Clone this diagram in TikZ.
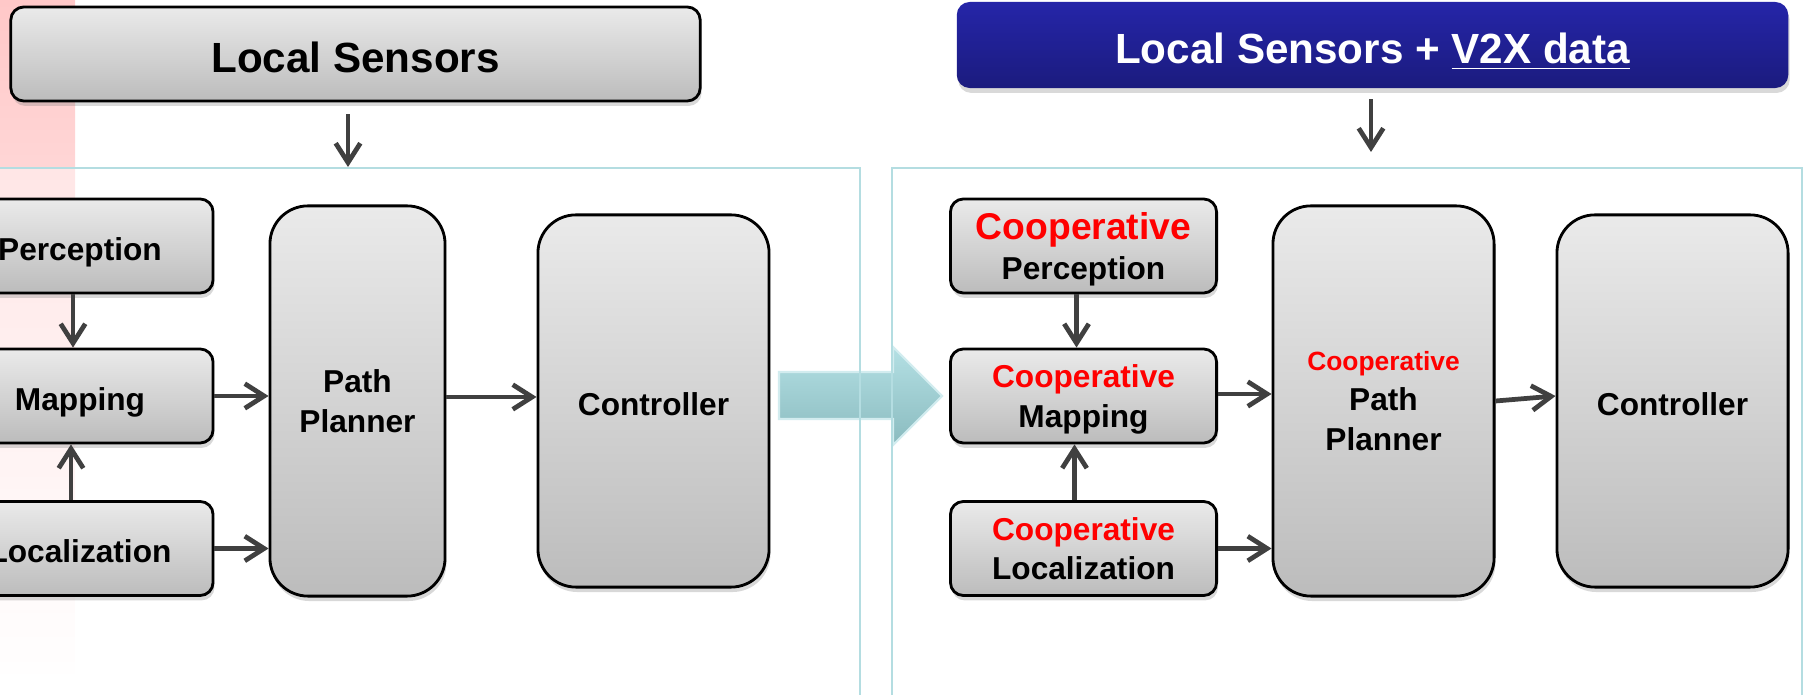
\documentclass[tikz,border=0pt]{standalone}
\usepackage{fontspec}
\setmainfont{Liberation Sans}
\usetikzlibrary{arrows.meta,shadows,positioning}
\usepackage{xcolor}

\definecolor{boxtop}{HTML}{EAEAEA}
\definecolor{boxbot}{HTML}{BCBCBC}
\definecolor{arrowgray}{HTML}{404040}
\definecolor{paneline}{HTML}{B4DDE1}
\definecolor{bluetop}{HTML}{2525A8}
\definecolor{bluebot}{HTML}{1B1B7E}
\definecolor{pinkstrip}{HTML}{FFC8C8}
\definecolor{bigtop}{HTML}{B4E0E4}
\definecolor{bigbot}{HTML}{8ABBBF}

% line box as PowerPoint sets it
\newcommand{\pptstrut}{\rule[-0.212em]{0pt}{1.117em}}
\newcommand{\pptlead}{\rule{0pt}{\dimexpr0.905em+2pt\relax}}

\begin{document}
\begin{tikzpicture}[x=0.01cm, y=-0.01cm,
    box/.style={draw=black, line width=0.8pt, rounded corners=0.13cm,
        top color=boxtop, bottom color=boxbot,
        drop shadow={shadow xshift=0.4pt, shadow yshift=-1.4pt, opacity=0.3},
        align=center, inner sep=0pt, font=\bfseries\fontsize{9}{11.3}\selectfont,
        execute at begin node=\pptlead, execute at end node=\pptstrut},
    lines/.style={text depth=-0.7pt},
    small/.style={box, minimum width=2.66cm, minimum height=0.94cm},
    tall/.style={box, rounded corners=0.38cm},
    title/.style={box, minimum height=0.94cm, font=\bfseries\fontsize{12}{14}\selectfont},
    flow/.style={draw=arrowgray, line width=1.35pt, -{Straight Barb[length=5.5pt, width=7pt]}},
    pane/.style={draw=paneline, line width=0.6pt}]

        \useasboundingbox (0,0) rectangle (1804,695);
        \clip (0,0) rectangle (1804,695);

        % background strip and panes
        \shade[top color=pinkstrip, bottom color=white] (0,0) rectangle (75,680);
        \fill[white, opacity=0.4] (-20,168) rectangle (860,720);

        \shade[top color=bigtop, bottom color=bigbot, draw=bigtop!60!white, line width=0.6pt]
            (779,372) -- (893,372) -- (893,347) -- (942,396) -- (893,445) -- (893,419) -- (779,419) -- cycle;

        \draw[pane] (-20,168) -- (860,168) -- (860,720);
        \draw[pane] (892,720) -- (892,168) -- (1802,168) -- (1802,720);

        % local sensors only
        \node[title, minimum width=6.89cm] (sensorsL) at (355.5,54) {Local Sensors};
        \coordinate (inL) at (348,167);

        \node[small] (percL) at (80,246) {Perception};
        \node[small] (mapL) at (80,396) {Mapping};
        \node[small] (locL) at (80,548.5) {Localization};
        \node[tall, lines, minimum width=1.75cm, minimum height=3.9cm] (planL) at (357.5,401) {Path\\Planner};
        \node[tall, minimum width=2.31cm, minimum height=3.72cm] (ctrlL) at (653.5,401) {Controller};

        \draw[flow] (sensorsL.south -| inL) ++(0,12) -- (inL);
        \draw[flow] ([xshift=-0.07cm]percL.south) -- ([xshift=-0.07cm]mapL.north);
        \draw[flow] ([xshift=-0.09cm]locL.north) -- ([xshift=-0.09cm]mapL.south);
        \draw[flow] (mapL.east) -- (mapL.east -| planL.west);
        \draw[flow] (locL.east) -- (locL.east -| planL.west);
        \draw[flow] ([yshift=0.04cm]planL.east) -- ([yshift=0.04cm]ctrlL.west);

        % local sensors + V2X
        \node[title, draw=none, top color=bluetop, bottom color=bluebot, text=white,
            minimum width=8.31cm, minimum height=0.86cm] (sensorsR) at (1372.5,45)
            {Local Sensors + \underline{V2X data}};
        \coordinate (inR) at (1371,152);

        \node[small, lines] (percR) at (1083.5,246)
            {{\fontsize{10.6}{12}\selectfont\textcolor{red}{Cooperative}}\\Perception};
        \node[small, lines] (mapR) at (1083.5,396) {\textcolor{red}{Cooperative}\\Mapping};
        \node[small, lines] (locR) at (1083.5,548.5) {\textcolor{red}{Cooperative}\\Localization};
        \node[tall, lines, minimum width=2.21cm, minimum height=3.9cm] (planR) at (1383.5,401)
            {{\fontsize{7.5}{9}\selectfont\textcolor{red}{Cooperative}}\\Path\\Planner};
        \node[tall, minimum width=2.31cm, minimum height=3.72cm] (ctrlR) at (1672.5,401) {Controller};

        \draw[flow] (sensorsR.south -| inR) ++(0,10) -- (inR);
        \draw[flow] ([xshift=-0.07cm]percR.south) -- ([xshift=-0.07cm]mapR.north);
        \draw[flow] ([xshift=-0.09cm]locR.north) -- ([xshift=-0.09cm]mapR.south);
        \draw[flow] ([yshift=0.02cm]mapR.east) -- ([yshift=0.02cm]mapR.east -| planR.west);
        \draw[flow] (locR.east) -- (locR.east -| planR.west);
        \draw[flow] (planR.east) -- ([yshift=0.05cm]ctrlR.west);

\end{tikzpicture}
\end{document}
